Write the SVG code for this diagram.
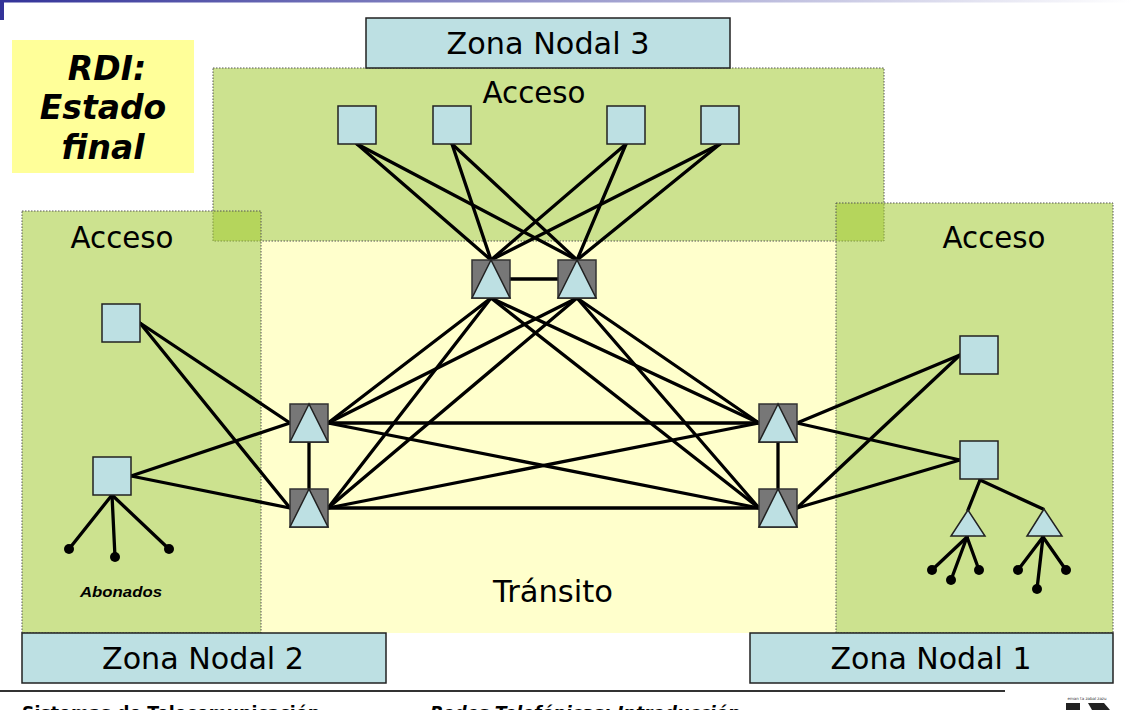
<svg xmlns="http://www.w3.org/2000/svg" width="1132" height="710" viewBox="0 0 1132 710">
<defs>
<linearGradient id="topbar" x1="0" y1="0" x2="1" y2="0">
<stop offset="0" stop-color="#333399"/>
<stop offset="1" stop-color="#ffffff"/>
</linearGradient>
<style>
.zone{fill:#a2ca33;fill-opacity:0.55;stroke:#555;stroke-width:1;stroke-dasharray:1.5 1.5}
.zn{fill:#bde0e3;stroke:#222;stroke-width:1.5}
.lbl{font-family:"DejaVu Sans",Verdana,sans-serif;font-size:30px;fill:#000;text-anchor:middle}
.sq{fill:#bde0e3;stroke:#222;stroke-width:1.5}
.tsq{fill:#777;stroke:#333;stroke-width:1.5}
.tri{fill:#bde0e3;stroke:#222;stroke-width:1.5}
.ln{stroke:#000;stroke-width:3.3;fill:none;stroke-linecap:round}
.dot{fill:#000}
.title{font-family:"DejaVu Sans",Verdana,sans-serif;font-size:33px;font-weight:bold;font-style:italic;text-anchor:middle;fill:#000}
.foot{font-family:"DejaVu Sans",Verdana,sans-serif;font-size:17px;font-weight:bold;fill:#000}
</style>
</defs>
<rect width="1132" height="710" fill="#fff"/>
<rect x="0" y="0" width="1132" height="2.5" fill="url(#topbar)"/>
<rect x="0" y="0" width="4" height="20" fill="#333399"/>

<g id="transito">
<rect x="261" y="241" width="575" height="392" fill="#ffffcc"/>
<text class="lbl" x="553" y="602" textLength="120" lengthAdjust="spacingAndGlyphs">Tránsito</text>
</g>
<g id="acceso-zona3">
<rect class="zone" x="213" y="68" width="671" height="173"/>
<text class="lbl" x="534" y="103" textLength="103" lengthAdjust="spacingAndGlyphs">Acceso</text>
</g>
<g id="acceso-zona2">
<rect class="zone" x="22" y="211" width="239" height="422"/>
<text class="lbl" x="122" y="248" textLength="103" lengthAdjust="spacingAndGlyphs">Acceso</text>
</g>
<g id="acceso-zona1">
<rect class="zone" x="836" y="203" width="277" height="430"/>
<text class="lbl" x="994" y="248" textLength="103" lengthAdjust="spacingAndGlyphs">Acceso</text>
</g>

<g id="titulo">
<rect x="12" y="40" width="182" height="133" fill="#ffff99"/>
<text class="title" x="107" y="80">RDI:</text>
<text class="title" x="103" y="119">Estado</text>
<text class="title" x="103" y="159">final</text>
</g>

<g id="zona-nodal-3">
<rect class="zn" x="366" y="18" width="364" height="50"/>
<text class="lbl" x="548" y="54" textLength="203" lengthAdjust="spacingAndGlyphs">Zona Nodal 3</text>
</g>
<g id="zona-nodal-2">
<rect class="zn" x="22" y="633" width="364" height="50"/>
<text class="lbl" x="203" y="669" textLength="202" lengthAdjust="spacingAndGlyphs">Zona Nodal 2</text>
</g>
<g id="zona-nodal-1">
<rect class="zn" x="750" y="633" width="363" height="50"/>
<text class="lbl" x="931" y="669" textLength="201" lengthAdjust="spacingAndGlyphs">Zona Nodal 1</text>
</g>

<g id="connectors">
<line class="ln" x1="357" y1="144" x2="491" y2="260"/>
<line class="ln" x1="357" y1="144" x2="577" y2="260"/>
<line class="ln" x1="452" y1="144" x2="491" y2="260"/>
<line class="ln" x1="452" y1="144" x2="577" y2="260"/>
<line class="ln" x1="626" y1="144" x2="491" y2="260"/>
<line class="ln" x1="626" y1="144" x2="577" y2="260"/>
<line class="ln" x1="720" y1="144" x2="491" y2="260"/>
<line class="ln" x1="720" y1="144" x2="577" y2="260"/>
<line class="ln" x1="510" y1="279" x2="558" y2="279"/>
<line class="ln" x1="491" y1="298" x2="328" y2="423"/>
<line class="ln" x1="491" y1="298" x2="328" y2="508"/>
<line class="ln" x1="491" y1="298" x2="759" y2="423"/>
<line class="ln" x1="491" y1="298" x2="759" y2="508"/>
<line class="ln" x1="577" y1="298" x2="328" y2="423"/>
<line class="ln" x1="577" y1="298" x2="328" y2="508"/>
<line class="ln" x1="577" y1="298" x2="759" y2="423"/>
<line class="ln" x1="577" y1="298" x2="759" y2="508"/>
<line class="ln" x1="328" y1="423" x2="759" y2="423"/>
<line class="ln" x1="328" y1="508" x2="759" y2="508"/>
<line class="ln" x1="328" y1="423" x2="759" y2="508"/>
<line class="ln" x1="328" y1="508" x2="759" y2="423"/>
<line class="ln" x1="309" y1="442" x2="309" y2="489"/>
<line class="ln" x1="778" y1="442" x2="778" y2="489"/>
<line class="ln" x1="140" y1="323" x2="290" y2="423"/>
<line class="ln" x1="140" y1="323" x2="290" y2="508"/>
<line class="ln" x1="131" y1="476" x2="290" y2="423"/>
<line class="ln" x1="131" y1="476" x2="290" y2="508"/>
<line class="ln" x1="112" y1="495" x2="69" y2="549"/>
<line class="ln" x1="112" y1="495" x2="115" y2="557"/>
<line class="ln" x1="112" y1="495" x2="169" y2="549"/>
<line class="ln" x1="960" y1="355" x2="797" y2="423"/>
<line class="ln" x1="960" y1="355" x2="797" y2="508"/>
<line class="ln" x1="960" y1="460" x2="797" y2="423"/>
<line class="ln" x1="960" y1="460" x2="797" y2="508"/>
<line class="ln" x1="980" y1="480" x2="968" y2="510"/>
<line class="ln" x1="980" y1="480" x2="1043" y2="509"/>
<line class="ln" x1="967" y1="537" x2="932" y2="570"/>
<line class="ln" x1="967" y1="537" x2="951" y2="580"/>
<line class="ln" x1="967" y1="537" x2="979" y2="570"/>
<line class="ln" x1="1043" y1="537" x2="1018" y2="570"/>
<line class="ln" x1="1043" y1="537" x2="1037" y2="589"/>
<line class="ln" x1="1043" y1="537" x2="1066" y2="570"/>
</g>

<g id="dots">
<circle class="dot" cx="69" cy="549" r="5"/>
<circle class="dot" cx="115" cy="557" r="5"/>
<circle class="dot" cx="169" cy="549" r="5"/>
<circle class="dot" cx="932" cy="570" r="5"/>
<circle class="dot" cx="951" cy="580" r="5"/>
<circle class="dot" cx="979" cy="570" r="5"/>
<circle class="dot" cx="1018" cy="570" r="5"/>
<circle class="dot" cx="1037" cy="589" r="5"/>
<circle class="dot" cx="1066" cy="570" r="5"/>
</g>

<g id="acc3-1"><rect class="sq" x="338" y="106" width="38" height="38"/></g>
<g id="acc3-2"><rect class="sq" x="433" y="106" width="38" height="38"/></g>
<g id="acc3-3"><rect class="sq" x="607" y="106" width="38" height="38"/></g>
<g id="acc3-4"><rect class="sq" x="701" y="106" width="38" height="38"/></g>
<g id="acc2-1"><rect class="sq" x="102" y="304" width="38" height="38"/></g>
<g id="acc2-2"><rect class="sq" x="93" y="457" width="38" height="38"/></g>
<g id="acc1-1"><rect class="sq" x="960" y="336" width="38" height="38"/></g>
<g id="acc1-2"><rect class="sq" x="960" y="441" width="38" height="38"/></g>
<g id="conc1-1"><polygon class="tri" points="968,510 951,536 985,536"/></g>
<g id="conc1-2"><polygon class="tri" points="1044,509 1027,536 1062,536"/></g>

<g id="tr3-a"><rect class="tsq" x="472" y="260" width="38" height="38"/><polygon class="tri" points="491,260 472,298 510,298"/></g>
<g id="tr3-b"><rect class="tsq" x="558" y="260" width="38" height="38"/><polygon class="tri" points="577,260 558,298 596,298"/></g>
<g id="tr2-a"><rect class="tsq" x="290" y="404" width="38" height="38"/><polygon class="tri" points="309,404 290,442 328,442"/></g>
<g id="tr2-b"><rect class="tsq" x="290" y="489" width="38" height="38"/><polygon class="tri" points="309,489 290,527 328,527"/></g>
<g id="tr1-a"><rect class="tsq" x="759" y="404" width="38" height="38"/><polygon class="tri" points="778,404 759,442 797,442"/></g>
<g id="tr1-b"><rect class="tsq" x="759" y="489" width="38" height="38"/><polygon class="tri" points="778,489 759,527 797,527"/></g>

<g id="abonados">
<text x="121" y="597" font-family="Liberation Sans, Arial, sans-serif" font-size="15" font-weight="bold" font-style="italic" text-anchor="middle" textLength="82" lengthAdjust="spacingAndGlyphs">Abonados</text>
</g>

<g id="footer">
<line x1="0" y1="691" x2="1005" y2="691" stroke="#333" stroke-width="2"/>
<text class="foot" x="22" y="719" textLength="298" lengthAdjust="spacingAndGlyphs">Sistemas de Telecomunicación</text>
<text class="foot" x="430" y="719" font-style="italic" textLength="310" lengthAdjust="spacingAndGlyphs">Redes Telefónicas: Introducción</text>
<text x="1087" y="700" font-family="DejaVu Sans, sans-serif" font-size="4" text-anchor="middle" fill="#333">eman ta zabal zazu</text>
<rect x="1066" y="703" width="14" height="7" fill="#222"/>
<polygon points="1088,703 1104,703 1110,710 1092,710" fill="#222"/>
</g>
</svg>
